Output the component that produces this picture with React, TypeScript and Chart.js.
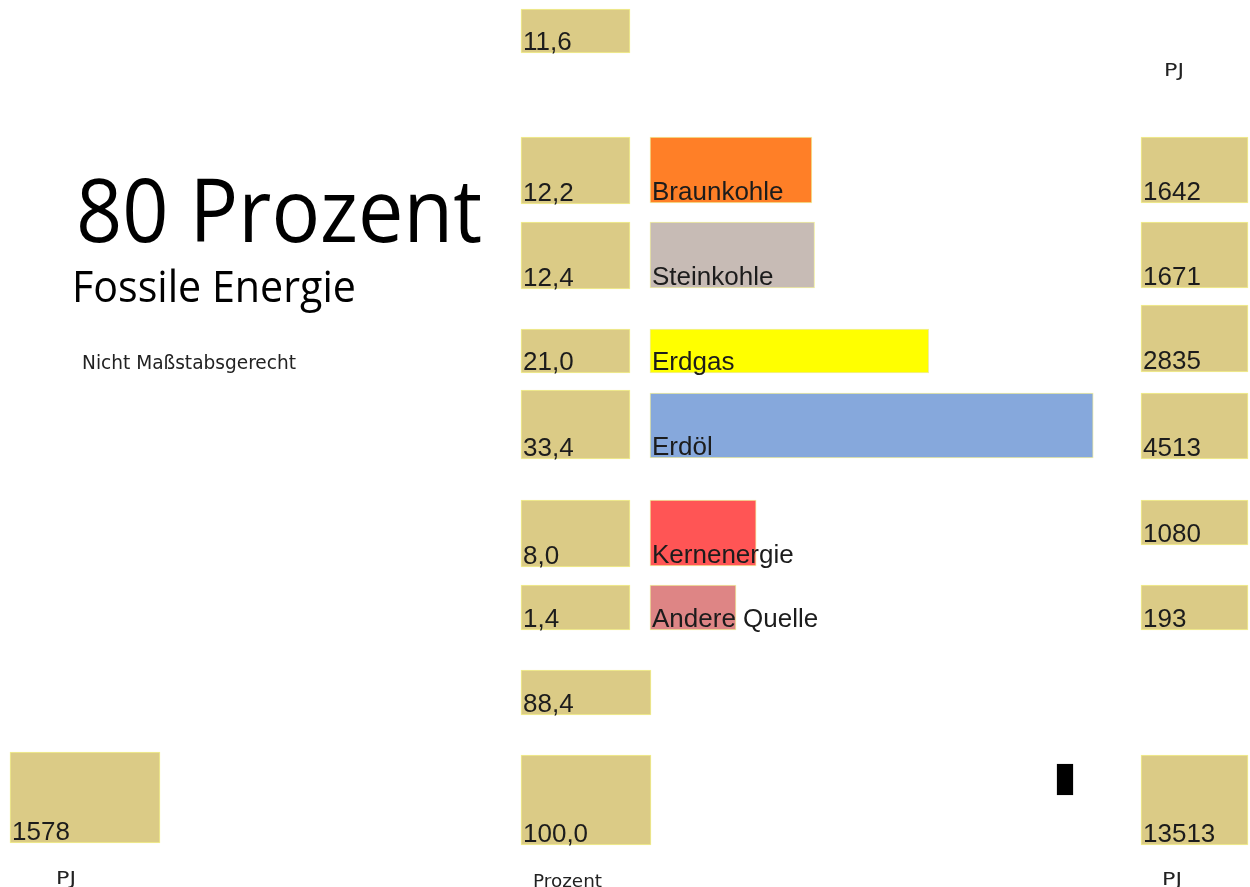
import React, { useEffect, useRef } from 'react';
import { Chart, registerables } from 'chart.js';

Chart.register(...registerables);

// ---------- data ----------
const SOURCES = ['Braunkohle', 'Steinkohle', 'Erdgas', 'Erdöl', 'Kernenergie', 'Andere Quelle'];
const SOURCE_PERCENT = [12.2, 12.4, 21.0, 33.4, 8.0, 1.4];
const SOURCE_PJ = [1642, 1671, 2835, 4513, 1080, 193];
const RENEWABLE_PERCENT = [11.6];
const RENEWABLE_PJ = [1578];
const NON_RENEWABLE_PERCENT = [88.4];
const TOTAL_PERCENT = [100.0];
const TOTAL_PJ = [13513];
const HEADLINE = '80 Prozent';
const SUBTITLE = 'Fossile Energie';
const NOTE = 'Nicht Maßstabsgerecht';
const UNIT_PJ = 'PJ';
const UNIT_PERCENT = 'Prozent';

// ---------- styles ----------
const SOURCE_COLORS = ['#FF7F27', '#C7BBB5', '#FFFF00', '#86A8DC', '#FF5555', '#DE8585'];
const BOX_FILL = '#DBCB86';
const BOX_BORDER = '#F3F08C';
const TEXT_COLOR = '#1c1c1c';

// ---------- layout (units of the hidden layout axes) ----------
const W = 1250;
const H = 887;
const PCT_COL = { center: 575.5, width: 109 };
const PCT_COL_WIDE = { center: 586, width: 130 };
const PJ_COL = { center: 1194.5, width: 107 };
const LEFT_COL = { center: 85, width: 150 };
const MARKER_COL = { center: 1065, width: 16 };
const BAR_ORIGIN = 650;
const BAR_PX_PER_PCT = 13.27;
const SOURCE_PCT_ROWS = [[137, 204], [222, 289], [329, 373], [390, 459], [500, 567], [585, 630]];
const SOURCE_BAR_ROWS = [[137, 203], [222, 288], [329, 373], [393, 458], [500, 566], [585, 630]];
const SOURCE_PJ_ROWS = [[137, 203], [222, 288], [305, 372], [393, 459], [500, 545], [585, 630]];
const RENEW_PCT_ROW = [9, 53];
const NONREN_ROW = [670, 715];
const TOTAL_ROW = [755, 845];
const LEFT_ROW = [752, 843];
const MARKER_ROW = [764, 795];

const fmtPct = (v: number) => v.toFixed(1).replace('.', ',');
const fmtPJ = (v: number) => String(v);

function boxDataset(col: { center: number; width: number }, rows: number[][], labels: string[], fill = BOX_FILL, border = BOX_BORDER) {
  return {
    type: 'bar',
    indexAxis: 'x',
    xAxisID: 'xl',
    yAxisID: 'y',
    grouped: false,
    barThickness: col.width,
    backgroundColor: fill,
    borderColor: border,
    borderWidth: 1,
    borderSkipped: false,
    data: rows.map((r) => ({ x: col.center, y: [r[0], r[1]] })),
    boxLabels: labels,
  } as any;
}

function energyDataset(i: number) {
  const r = SOURCE_BAR_ROWS[i];
  return {
    type: 'bar',
    label: SOURCES[i],
    indexAxis: 'y',
    xAxisID: 'xv',
    yAxisID: 'y',
    grouped: false,
    barThickness: r[1] - r[0],
    minBarLength: 86,
    backgroundColor: SOURCE_COLORS[i],
    borderColor: 'rgba(238,235,150,0.9)',
    borderWidth: 1,
    borderSkipped: false,
    data: [{ y: (r[0] + r[1]) / 2, x: SOURCE_PERCENT[i] }],
    boxLabels: [SOURCES[i]],
  } as any;
}

function drawFit(ctx: CanvasRenderingContext2D, text: string, x: number, baseline: number, font: string, targetWidth?: number) {
  ctx.save();
  ctx.font = font;
  ctx.textBaseline = 'alphabetic';
  ctx.textAlign = 'left';
  const w = ctx.measureText(text).width;
  const sx = targetWidth ? targetWidth / w : 1;
  ctx.translate(x, baseline);
  ctx.scale(sx, 1);
  ctx.fillText(text, 0, 0);
  ctx.restore();
}

const textPlugin = {
  id: 'boxText',
  afterDatasetsDraw(chart: any) {
    const ctx: CanvasRenderingContext2D = chart.ctx;
    ctx.save();
    ctx.fillStyle = TEXT_COLOR;
    chart.data.datasets.forEach((ds: any, di: number) => {
      if (!ds.boxLabels) return;
      const meta = chart.getDatasetMeta(di);
      meta.data.forEach((el: any, j: number) => {
        const label = ds.boxLabels[j];
        if (!label) return;
        const p = el.getProps(['x', 'y', 'base', 'width', 'height'], true);
        let left: number, bottom: number;
        if (el.horizontal) {
          left = Math.min(p.x, p.base);
          bottom = p.y + p.height / 2;
        } else {
          left = p.x - p.width / 2;
          bottom = Math.max(p.y, p.base);
        }
        drawFit(ctx, label, left + 2, bottom - 3, '26px "Liberation Sans", Arial, sans-serif');
      });
    });
    ctx.fillStyle = '#000';
    drawFit(ctx, HEADLINE, 76, 242, '87px "Open Sans", sans-serif', 406);
    drawFit(ctx, SUBTITLE, 72, 302, '43px "Open Sans", sans-serif', 284);
    ctx.fillStyle = '#222';
    drawFit(ctx, NOTE, 82, 369, '19px "DejaVu Sans", sans-serif', 214);
    drawFit(ctx, UNIT_PJ, 1164, 76, '17px "DejaVu Sans", sans-serif', 20);
    drawFit(ctx, UNIT_PJ, 56, 884, '17px "DejaVu Sans", sans-serif', 20);
    drawFit(ctx, UNIT_PJ, 1162, 885, '17px "DejaVu Sans", sans-serif', 20);
    drawFit(ctx, UNIT_PERCENT, 533, 887, '18px "DejaVu Sans", sans-serif', 69);
    ctx.restore();
  },
};

export default function App() {
  const ref = useRef<HTMLCanvasElement | null>(null);
  useEffect(() => {
    if (!ref.current) return;
    const datasets: any[] = [
      boxDataset(PCT_COL, [RENEW_PCT_ROW, ...SOURCE_PCT_ROWS], [...RENEWABLE_PERCENT, ...SOURCE_PERCENT].map(fmtPct)),
      boxDataset(PCT_COL_WIDE, [NONREN_ROW, TOTAL_ROW], [...NON_RENEWABLE_PERCENT, ...TOTAL_PERCENT].map(fmtPct)),
      boxDataset(PJ_COL, [...SOURCE_PJ_ROWS, TOTAL_ROW], [...SOURCE_PJ, ...TOTAL_PJ].map(fmtPJ)),
      boxDataset(LEFT_COL, [LEFT_ROW], RENEWABLE_PJ.map(fmtPJ)),
      boxDataset(MARKER_COL, [MARKER_ROW], [], '#000000', '#000000'),
      ...SOURCES.map((_, i) => energyDataset(i)),
    ];
    const chart = new Chart(ref.current, {
      type: 'bar',
      data: { datasets },
      options: {
        animation: false,
        responsive: false,
        maintainAspectRatio: false,
        layout: { padding: 0 },
        plugins: { legend: { display: false }, tooltip: { enabled: false } },
        scales: {
          xl: { type: 'linear', axis: 'x', display: false, offset: false, min: 0, max: W, grace: 0 },
          xv: {
            type: 'linear',
            axis: 'x',
            display: false,
            offset: false,
            grace: 0,
            min: -BAR_ORIGIN / BAR_PX_PER_PCT,
            max: (W - BAR_ORIGIN) / BAR_PX_PER_PCT,
          },
          y: { type: 'linear', axis: 'y', display: false, offset: false, grace: 0, min: 0, max: H, reverse: true },
        },
      } as any,
      plugins: [textPlugin],
    });
    return () => chart.destroy();
  }, []);
  return (
    <div style={{ position: 'absolute', left: 0, top: 0, width: W, height: H, background: '#fff' }}>
      <canvas ref={ref} width={W} height={H} style={{ display: 'block' }} />
    </div>
  );
}
